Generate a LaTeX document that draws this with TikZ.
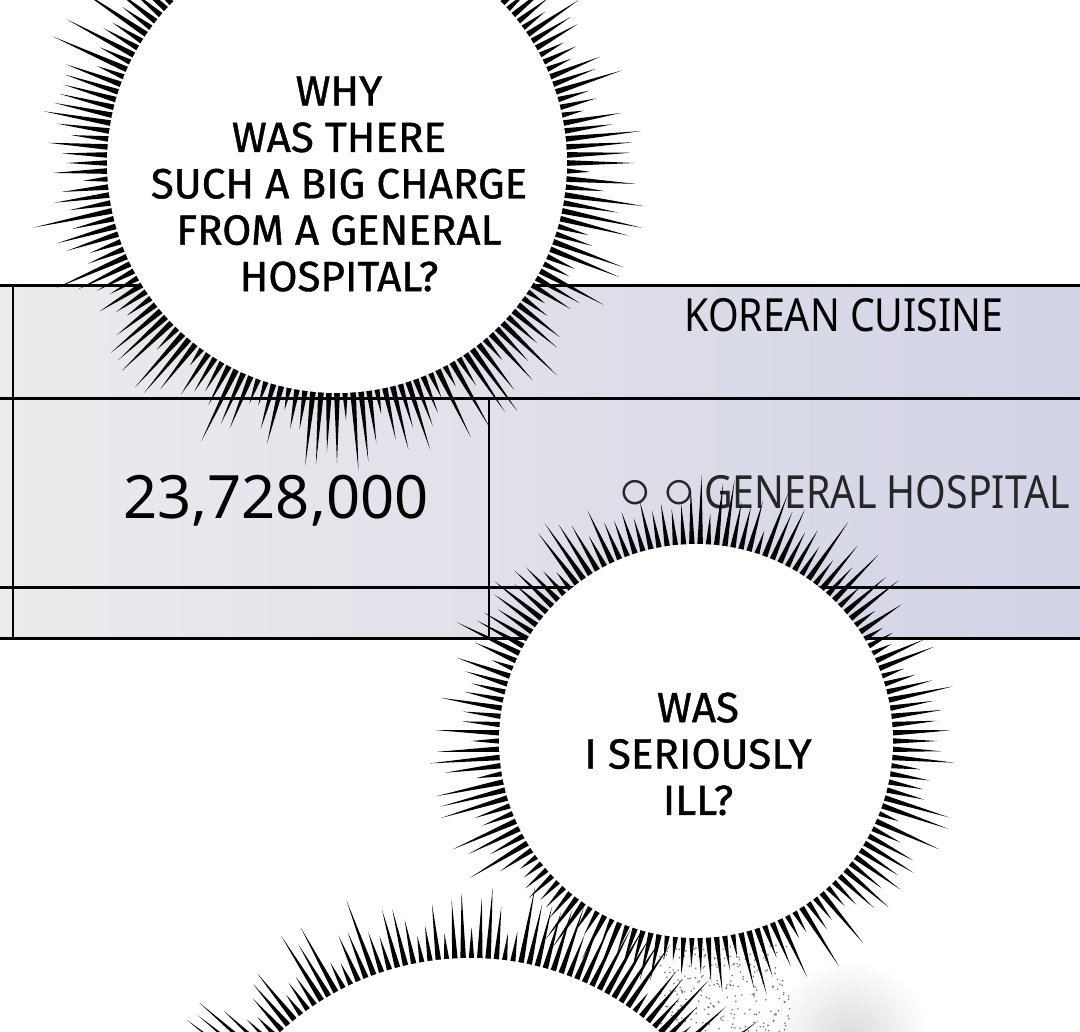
\documentclass[tikz,border=0pt]{standalone}
\usepackage{fontspec}
\usepackage{graphicx}
\setmainfont{Noto Sans}
\newfontfamily\cellfont[FakeStretch=0.86]{Noto Sans}
\newfontfamily\letterfont[FakeBold=1]{Fira Sans}
\definecolor{cellgray}{HTML}{ECECEE}
\definecolor{cellblue}{HTML}{D2D3E5}
\begin{document}
\begin{tikzpicture}[x=0.02cm,y=-0.02cm,
    rule/.style={line width=1.7pt,black},
    bubbletext/.style={align=center,inner sep=0pt,
      font=\letterfont\fontsize{24}{26.4}\selectfont}]
    \useasboundingbox (0,0) rectangle (1080,1032);%
    \clip (0,0) rectangle (1080,1032);%
    \fill[white] (0,0) rectangle (1080,1032);%

    \shade[left color=cellgray,right color=cellblue] (0,285) rectangle (1080,638);%
    \draw[rule] (0,285) -- (1080,285);%
    \draw[rule] (0,398) -- (1080,398);%
    \draw[rule] (0,587) -- (1080,587);%
    \draw[rule] (0,638) -- (1080,638);%
    \draw[rule] (13,285) -- (13,638);%
    \draw[rule] (489,398) -- (489,638);%

    \node[anchor=base,inner sep=0pt,font=\cellfont\fontsize{26}{30}\selectfont] (K) at (844,331) {KOREAN CUISINE};%
    \node[anchor=base,inner sep=0pt,font=\fontsize{34}{40}\selectfont] (N) at (276,518) {23,728,000};%
    \node[anchor=base,inner sep=0pt,font=\cellfont\fontsize{26}{30}\selectfont,text=black!85] (H) at (845,508)
      {\scalebox{1.45}{$\circ$}\hspace{7pt}\scalebox{1.45}{$\circ$}\hspace{5pt}GENERAL HOSPITAL};%

    % speckles and soft shadow near the lower bubble
    \shade[inner color=black!18,outer color=white,opacity=0.8] (850,1040) circle (80);%
    \pgfmathsetseed{7}%
    \foreach \i in {1,...,260}{%
      \fill[black!55] (660+130*rnd,945+90*rnd) circle (0.9);%
    }%

    % lower bubble
    \begin{scope}[shift={(470,1238)}]
      \foreach \a in {0,1.7,...,358.3}{%
        \pgfmathsetmacro\len{280+22+62*rnd}%
        \fill (\a-0.6:277) -- (\a:\len) -- (\a+0.6:277) -- cycle;%
      }%
      \fill[white] (0,0) circle (280);%
    \end{scope}

    % middle bubble
    \begin{scope}[shift={(696,741)}]
      \foreach \a in {0,2.4,...,357.6}{%
        \pgfmathsetmacro\len{197+20+50*rnd}%
        \fill (\a-0.85:194) -- (\a:\len) -- (\a+0.85:194) -- cycle;%
      }%
      \fill[white] (0,0) circle (197);%
    \end{scope}

    % upper bubble
    \begin{scope}[shift={(337,163)}]
      \foreach \a in {0,2,...,358}{%
        \pgfmathsetmacro\len{230+20+62*rnd}%
        \fill (\a-0.75:227) -- (\a:\len) -- (\a+0.75:227) -- cycle;%
      }%
      \fill[white] (0,0) circle (230);%
    \end{scope}

    \node[bubbletext] (W1) at (339,184) {WHY\\WAS THERE\\SUCH A BIG CHARGE\\FROM A GENERAL\\HOSPITAL?};%
    \node[bubbletext] (W2) at (698,754) {WAS\\I SERIOUSLY\\ILL?};%
  \end{tikzpicture}
\end{document}
